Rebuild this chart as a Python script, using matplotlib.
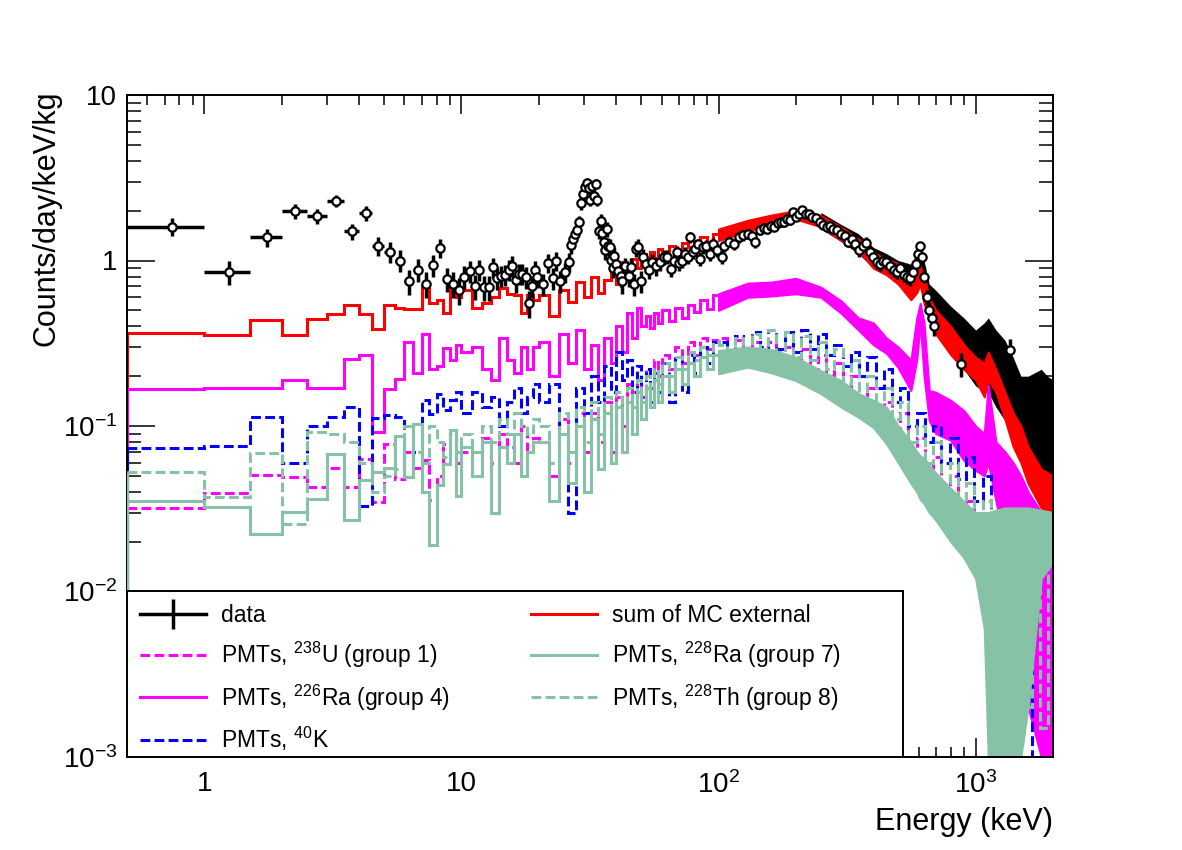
import numpy as np
import matplotlib
matplotlib.use("Agg")
import matplotlib.pyplot as plt
from matplotlib.lines import Line2D
from matplotlib.patches import Rectangle
from matplotlib.ticker import FixedLocator, FixedFormatter, LogLocator, NullFormatter

plt.rcParams['font.family'] = ['Liberation Sans', 'DejaVu Sans']
plt.rcParams['mathtext.fontset'] = 'custom'
plt.rcParams['mathtext.rm'] = 'Liberation Sans'
plt.rcParams['mathtext.it'] = 'Liberation Sans:italic'
plt.rcParams['mathtext.bf'] = 'Liberation Sans:bold'

# ---------------- data points (0.5 keV bins) ----------------
data_E = [0.75, 1.25, 1.75, 2.25, 2.75, 3.25, 3.75, 4.25, 4.75, 5.25, 5.75, 6.25, 6.75, 7.25, 7.75,
          8.25, 8.75, 9.25, 9.75, 10.25, 10.75, 11.25, 11.75, 12.25, 12.75, 13.25, 13.75, 14.25,
          14.75, 15.25, 15.75, 16.25, 16.75, 17.25, 17.75, 18.25, 18.75, 19.25, 19.75, 20.75, 21.75,
          22.75, 23.25, 24.25, 25.25, 26.25, 26.75, 27.25, 27.75, 28.25, 28.75, 29.25, 29.75, 30.25,
          30.75, 31.25, 31.75, 32.25, 32.75, 33.25, 33.75, 34.25, 34.75, 35.25, 35.75, 36.25, 36.75,
          37.25, 37.75, 38.25, 38.75, 39.25, 39.75, 40.75, 41.75, 42.25, 43.25, 44.75, 45.75, 46.75,
          47.75, 48.75, 49.75, 50.75, 52.25, 53.75, 55.25, 57.25, 59.25, 61.25, 63.25, 65.25, 67.25,
          68.75, 70.25, 72.25, 74.25, 76.25, 77.75, 79.75, 81.25, 83.25, 84.75, 87.25, 89.75, 92.25,
          95.25, 98.25, 102.75, 105, 110, 115, 120, 125, 130, 135, 139, 145, 150, 155, 160, 165, 170,
          175, 180, 185, 190, 195, 200, 206, 212, 218, 225, 232, 240, 248, 256, 264, 272, 280, 290,
          300, 310, 320, 330, 340, 352, 364, 376, 388, 400, 412, 424, 437, 450, 465, 480, 495, 510,
          525, 540, 555, 570, 585, 597, 609, 620, 632, 645, 660, 675, 690, 880, 1364]
data_y = [1.60, 0.855, 1.38, 1.98, 1.85, 2.30, 1.50, 1.93, 1.22, 1.13, 1.00, 0.75, 0.88, 0.72, 0.94,
          1.19, 0.775, 0.72, 0.66, 0.80, 0.86, 0.70, 0.88, 0.69, 0.69, 0.91, 0.78, 0.81,
          0.82, 0.88, 0.93, 0.76, 0.83, 0.83, 0.79, 0.55, 0.70, 0.88, 0.80, 0.72, 0.97,
          0.78, 1.00, 0.75, 0.85, 0.98, 1.24, 1.35, 1.44, 1.52, 1.70, 2.22, 2.53, 2.77,
          2.93, 2.73, 2.33, 2.81, 2.45, 2.90, 2.33, 1.50, 1.74, 1.46, 1.30, 1.15, 1.55,
          1.22, 1.21, 1.01, 0.90, 1.07, 0.95, 0.87, 0.81, 0.75, 0.92, 0.81, 0.91, 0.72,
          1.18, 1.21, 0.75, 1.05, 0.95, 0.88, 0.98, 0.92, 0.98, 1.05, 1.05, 0.89, 1.00,
          1.12, 0.97, 1.00, 1.10, 1.05, 1.38, 1.12, 1.18, 1.25, 1.02, 1.20, 1.23, 1.10,
          1.26, 1.15, 1.05, 1.22, 1.30, 1.25, 1.38, 1.42, 1.45, 1.40, 1.29, 1.52, 1.58, 1.55, 1.62,
          1.60, 1.68, 1.72, 1.70, 1.78, 1.75, 1.95, 1.84, 1.92, 2.02, 1.92, 1.90, 1.82, 1.80, 1.72,
          1.65, 1.60, 1.62, 1.55, 1.52, 1.45, 1.40, 1.30, 1.35, 1.25, 1.15, 1.22, 1.28, 1.12, 1.05,
          0.98, 0.95, 1.00, 0.98, 0.92, 0.88, 0.85, 0.90, 0.82, 0.80, 0.78, 0.85, 0.95, 1.10,
          1.22, 1.05, 0.80, 0.60, 0.50, 0.45, 0.40, 0.237, 0.286]
data_err = [0.20, 0.14, 0.17, 0.20, 0.19, 0.20, 0.17, 0.19, 0.16, 0.16, 0.15, 0.13, 0.14, 0.13, 0.14,
            0.16, 0.13, 0.13, 0.12, 0.13, 0.13, 0.12, 0.13, 0.12, 0.12, 0.13, 0.12, 0.12,
            0.12, 0.13, 0.13, 0.12, 0.12, 0.12, 0.12, 0.10, 0.11, 0.12, 0.12, 0.11, 0.13,
            0.12, 0.13, 0.11, 0.12, 0.13, 0.14, 0.15, 0.15, 0.16, 0.17, 0.19, 0.20, 0.21,
            0.21, 0.21, 0.20, 0.21, 0.20, 0.21, 0.20, 0.16, 0.17, 0.16, 0.15, 0.14, 0.16,
            0.15, 0.14, 0.13, 0.12, 0.13, 0.13, 0.12, 0.12, 0.12, 0.12, 0.12, 0.12, 0.11,
            0.13, 0.13, 0.11, 0.12, 0.11, 0.11, 0.11, 0.11, 0.11, 0.11, 0.10, 0.10, 0.10,
            0.10, 0.10, 0.10, 0.10, 0.10, 0.10, 0.10, 0.10, 0.10, 0.10, 0.10, 0.10, 0.10,
            0.10, 0.10, 0.10, 0.10, 0.10, 0.10, 0.10, 0.10, 0.10, 0.10, 0.10, 0.10, 0.10, 0.10, 0.10,
            0.10, 0.10, 0.10, 0.10, 0.10, 0.10, 0.10, 0.10, 0.10, 0.10, 0.10, 0.10, 0.10, 0.10, 0.10,
            0.10, 0.10, 0.10, 0.10, 0.10, 0.10, 0.10, 0.10, 0.10, 0.10, 0.10, 0.10, 0.10, 0.09, 0.09,
            0.09, 0.09, 0.09, 0.09, 0.08, 0.08, 0.08, 0.08, 0.08, 0.08, 0.08, 0.08, 0.08, 0.08,
            0.08, 0.08, 0.07, 0.06, 0.06, 0.05, 0.05, 0.04, 0.05]

# black band where the data bins pile up at high energy
dband_E = [250, 300, 350, 400, 450, 500, 560, 590, 609, 630, 660, 700, 800, 900, 1000, 1080, 1120,
           1200, 1300, 1400, 1500, 1600, 1700, 1800, 1900, 2000]
dband_lo = [1.55, 1.3, 1.1, 0.9, 0.85, 0.78, 0.75, 0.85, 0.95, 0.7, 0.45, 0.36, 0.29, 0.22, 0.175,
            0.16, 0.16, 0.13, 0.108, 0.08, 0.065, 0.05, 0.04, 0.035, 0.035, 0.04]
dband_hi = [1.95, 1.65, 1.45, 1.2, 1.1, 1.0, 0.95, 1.1, 1.3, 1.0, 0.72, 0.66, 0.53, 0.45, 0.38,
            0.42, 0.45, 0.38, 0.33, 0.26, 0.2, 0.2, 0.21, 0.22, 0.2, 0.19]

# ---------------- MC histograms up to 100 keV ----------------
bin_edges = [0.5, 1.0, 1.5, 2.0, 2.5, 3.0, 3.5, 4.0, 4.5, 5.0, 5.5, 6.0, 6.5, 7.0, 7.5, 8.0, 8.5,
             9.0, 9.5, 10, 11, 12, 13, 14, 15, 16, 17, 18, 19, 20,
             22, 24, 26, 28, 30, 32, 34, 36, 38, 40, 42, 44, 46, 48, 50, 52, 54, 56, 58, 60,
             64, 68, 72, 76, 80, 85, 90, 95, 100]
sum_low = [0.364, 0.357, 0.434, 0.357, 0.444, 0.477, 0.542, 0.477, 0.387, 0.535, 0.52, 0.51, 0.51,
           0.70, 0.55, 0.578, 0.48, 0.69, 0.60, 0.66, 0.52, 0.55, 0.60, 0.68, 0.63, 0.62, 0.48, 0.62, 0.58,
           0.62, 0.46, 0.66, 0.56, 0.74, 0.60, 0.80, 0.64, 0.76, 0.92, 0.72, 0.98, 0.80, 1.02, 0.90,
           1.10, 1.00, 1.12, 1.04, 1.18, 1.10, 1.22, 1.14, 1.28, 1.20, 1.32, 1.38, 1.30, 1.45]
u238_low = [0.0319, 0.0393, 0.0508, 0.049, 0.043, 0.056, 0.043, 0.063, 0.0347, 0.078, 0.048, 0.07,
            0.056, 0.062, 0.0355, 0.05, 0.078, 0.088, 0.06, 0.07, 0.05, 0.085, 0.06, 0.09, 0.075,
            0.06, 0.10, 0.07, 0.085,
            0.08, 0.05, 0.11, 0.06, 0.12, 0.07, 0.12, 0.08, 0.14, 0.07, 0.15, 0.10, 0.18, 0.12, 0.20,
            0.15, 0.22, 0.17, 0.25, 0.20, 0.27, 0.22, 0.30, 0.24, 0.32, 0.27, 0.34, 0.29, 0.33]
ra226_low = [0.168, 0.17, 0.17, 0.19, 0.17, 0.17, 0.255, 0.267, 0.092, 0.168, 0.193, 0.32, 0.21,
             0.36, 0.222, 0.23, 0.294, 0.25, 0.31, 0.28, 0.30, 0.22, 0.19, 0.34, 0.25, 0.21, 0.30,
             0.22, 0.30,
             0.32, 0.20, 0.36, 0.24, 0.38, 0.22, 0.31, 0.19, 0.34, 0.24, 0.40, 0.28, 0.48, 0.34, 0.52,
             0.40, 0.46, 0.39, 0.48, 0.42, 0.50, 0.43, 0.52, 0.45, 0.54, 0.49, 0.58, 0.51, 0.62]
k40_low = [0.074, 0.0755, 0.114, 0.06, 0.10, 0.113, 0.13, 0.033, 0.112, 0.116, 0.113, 0.049, 0.07,
           0.143, 0.118, 0.157, 0.125, 0.143, 0.16, 0.12, 0.16, 0.13, 0.15, 0.10, 0.14, 0.17, 0.12,
           0.15, 0.18,
           0.14, 0.18, 0.09, 0.03, 0.17, 0.12, 0.20, 0.14, 0.23, 0.16, 0.28, 0.19, 0.25, 0.16, 0.23,
           0.15, 0.22, 0.14, 0.21, 0.16, 0.24, 0.14, 0.26, 0.16, 0.27, 0.21, 0.30, 0.24, 0.32]
ra228_low = [0.0351, 0.0326, 0.0223, 0.0302, 0.0362, 0.068, 0.0269, 0.047, 0.0524, 0.056, 0.0875,
             0.049, 0.103, 0.04, 0.019, 0.044, 0.0589, 0.094, 0.038, 0.075, 0.05, 0.08, 0.03, 0.075,
             0.06, 0.09, 0.05, 0.07, 0.08,
             0.08, 0.035, 0.09, 0.045, 0.10, 0.04, 0.11, 0.055, 0.12, 0.06, 0.13, 0.07, 0.14, 0.09,
             0.16, 0.11, 0.17, 0.13, 0.19, 0.14, 0.20, 0.16, 0.22, 0.18, 0.24, 0.20, 0.26, 0.22, 0.27]
th228_low = [0.0525, 0.037, 0.069, 0.0255, 0.092, 0.09, 0.08, 0.06, 0.04, 0.05, 0.055, 0.10, 0.07,
             0.06, 0.10, 0.08, 0.065, 0.09, 0.07, 0.09, 0.07, 0.10, 0.08, 0.11, 0.09, 0.12, 0.10,
             0.09, 0.11,
             0.10, 0.06, 0.12, 0.07, 0.13, 0.08, 0.14, 0.09, 0.15, 0.10, 0.16, 0.11, 0.17, 0.13, 0.19,
             0.14, 0.20, 0.16, 0.22, 0.18, 0.24, 0.20, 0.26, 0.22, 0.28, 0.25, 0.30, 0.27, 0.32]

# ---------------- dashed MC above 100 keV (coarser bins) ----------------
hi_edges = [100, 108, 116, 125, 135, 145, 156, 168, 181, 195, 210, 226, 243, 262, 282, 304, 327, 352,
            379, 408, 439, 473, 509, 548, 590, 635, 684, 736, 792, 853, 918, 988, 1064, 1145, 1233,
            1327, 1429, 1538, 1656, 1783, 1920, 2000]
u238_high = [0.34, 0.27, 0.33, 0.26, 0.32, 0.25, 0.32, 0.24, 0.30, 0.23, 0.29, 0.22, 0.27, 0.20, 0.24,
             0.17, 0.20, 0.14, 0.17, 0.12, 0.14, 0.09, 0.12, 0.07, 0.085, 0.055, 0.065, 0.04, 0.05,
             0.025, 0.035, 0.015, 0.025, 0.008, 0.014, 0.004, 0.01, 0.002, 0.007, 0.0015, 0.005]
k40_high = [0.32, 0.26, 0.35, 0.29, 0.37, 0.30, 0.38, 0.29, 0.37, 0.28, 0.38, 0.29, 0.36, 0.27, 0.31,
            0.23, 0.28, 0.20, 0.26, 0.17, 0.22, 0.14, 0.17, 0.10, 0.12, 0.08, 0.10, 0.06, 0.085, 0.048,
            0.065, 0.035, 0.05, 0.02, 0.03, 0.012, 0.022, 0.005, 0.0005, 0.0005, 0.0005]
th228_high = [0.31, 0.24, 0.34, 0.26, 0.36, 0.27, 0.38, 0.28, 0.37, 0.26, 0.35, 0.25, 0.32, 0.22, 0.29,
              0.18, 0.25, 0.15, 0.20, 0.13, 0.17, 0.11, 0.14, 0.08, 0.10, 0.06, 0.08, 0.045, 0.06,
              0.03, 0.045, 0.022, 0.035, 0.012, 0.028, 0.004, 0.028, 0.002, 0.025, 0.0015, 0.022]

# ---------------- solid MC, spread of the fine bins above 100 keV ----------------
band_E = [100, 130, 160, 200, 250, 300, 350, 400, 450, 500, 560, 590, 609, 630, 660, 700, 800, 900,
          1000, 1080, 1120, 1200, 1300, 1400, 1500, 1600, 1800, 2000]
sum_lo = [1.32, 1.50, 1.67, 1.78, 1.60, 1.32, 1.15, 0.90, 0.82, 0.72, 0.58, 0.64, 0.72, 0.55, 0.45,
          0.36, 0.27, 0.22, 0.19, 0.15, 0.19, 0.16, 0.11, 0.075, 0.06, 0.045, 0.032, 0.028]
sum_hi = [1.55, 1.75, 1.88, 2.0, 1.87, 1.59, 1.35, 1.12, 1.02, 0.96, 0.78, 0.85, 0.92, 0.80, 0.60,
          0.50, 0.40, 0.31, 0.26, 0.24, 0.28, 0.22, 0.16, 0.12, 0.10, 0.075, 0.055, 0.05]
ra226_lo = [0.50, 0.60, 0.61, 0.63, 0.60, 0.48, 0.38, 0.31, 0.275, 0.225, 0.164, 0.25, 0.42, 0.20,
            0.108, 0.09, 0.082, 0.062, 0.054, 0.05, 0.06, 0.035, 0.02, 0.015, 0.006, 0.002, 0.001, 0.001]
ra226_hi = [0.63, 0.73, 0.74, 0.78, 0.69, 0.57, 0.45, 0.42, 0.34, 0.30, 0.25, 0.45, 0.55, 0.42,
            0.164, 0.16, 0.143, 0.124, 0.10, 0.09, 0.176, 0.08, 0.07, 0.06, 0.05, 0.04, 0.03, 0.025]
ra228_lo = [0.207, 0.227, 0.21, 0.188, 0.157, 0.13, 0.113, 0.098, 0.078, 0.06, 0.045, 0.04, 0.036,
            0.034, 0.03, 0.027, 0.02, 0.016, 0.012, 0.006, 0.001, 0.001, 0.001, 0.001, 0.001, 0.002,
            0.012, 0.015]
ra228_hi = [0.286, 0.30, 0.29, 0.26, 0.216, 0.188, 0.157, 0.143, 0.13, 0.10, 0.08, 0.07, 0.066,
            0.064, 0.058, 0.052, 0.042, 0.035, 0.03, 0.03, 0.03, 0.031, 0.032, 0.032, 0.032, 0.032,
            0.031, 0.03]

RED = '#ff0000'
MAG = '#ff00ff'
BLUE = '#0000ff'
GREEN = '#86c2a5'
DASH = (3.2, 1.4)

fig = plt.figure(figsize=(11.82, 8.5), dpi=100)
ax = fig.add_axes([127 / 1182, 1 - 757 / 850, 926 / 1182, 662 / 850])

# black band under everything
ax.fill_between(dband_E, dband_lo, dband_hi, color='black', lw=0, zorder=1)

all_edges = bin_edges + hi_edges[1:]
series = [
    ('solid', sum_low, sum_lo, sum_hi, RED),
    ('dash', u238_low + u238_high, None, None, MAG),
    ('solid', ra226_low, ra226_lo, ra226_hi, MAG),
    ('dash', k40_low + k40_high, None, None, BLUE),
    ('solid', ra228_low, ra228_lo, ra228_hi, GREEN),
    ('dash', th228_low + th228_high, None, None, GREEN),
]
z = 2
for kind, vals, lo, hi, col in series:
    if kind == 'solid':
        ax.stairs(vals, bin_edges, baseline=None, color=col, lw=2.2, zorder=z)
        ax.fill_between(band_E, lo, hi, color=col, lw=1.5, zorder=z)
    else:
        ax.stairs(vals, all_edges, baseline=None, color=col, lw=2.2, ls=(0, DASH), zorder=z)
    ax.vlines(bin_edges[0], 1e-4, vals[0], color=col, lw=2.2, zorder=z)
    z += 0.1

ax.errorbar(data_E, data_y, yerr=data_err, xerr=0.25, fmt='o', ms=6, mfc='white', mec='black',
            mew=1.6, ecolor='black', elinewidth=2.5, capsize=0, zorder=6)

ax.set_xscale('log')
ax.set_yscale('log')
ax.set_xlim(0.5, 2000)
ax.set_ylim(1e-3, 10)

ax.xaxis.set_major_locator(FixedLocator([1, 10, 100, 1000]))
ax.xaxis.set_major_formatter(FixedFormatter(['1', '10', r'$10^{2}$', r'$10^{3}$']))
ax.xaxis.set_minor_locator(LogLocator(base=10, subs=np.arange(2, 10), numticks=100))
ax.xaxis.set_minor_formatter(NullFormatter())
ax.yaxis.set_major_locator(FixedLocator([1e-3, 1e-2, 1e-1, 1, 10]))
ax.yaxis.set_major_formatter(FixedFormatter([r'$10^{-3}$', r'$10^{-2}$', r'$10^{-1}$', '1', '10']))
ax.yaxis.set_minor_locator(LogLocator(base=10, subs=np.arange(2, 10), numticks=100))
ax.yaxis.set_minor_formatter(NullFormatter())

ax.tick_params(which='both', direction='in', top=True, right=True, width=1.1, labelsize=20)
ax.tick_params(axis='y', which='major', length=20, pad=7)
ax.tick_params(axis='y', which='minor', length=10)
ax.tick_params(axis='x', which='major', length=14, pad=10)
ax.tick_params(axis='x', which='minor', length=7)
for s in ax.spines.values():
    s.set_linewidth(1.4)

fig.text(47 / 1182, 1 - 90 / 850, 'Counts/day/keV/kg', rotation=90, ha='center', va='top', fontsize=22)
fig.text(1053 / 1182, 1 - 822 / 850, 'Energy (keV)', ha='right', va='center', fontsize=22)

# legend box
ax.add_patch(Rectangle((0, 0), 776 / 926, 166 / 662, transform=ax.transAxes, facecolor='white',
                       edgecolor='black', lw=1.4, zorder=10))
handles = [
    Line2D([], [], color='black', lw=2.5, marker='|', ms=22, mew=2.5),
    Line2D([], [], color=MAG, lw=2.2, dashes=DASH),
    Line2D([], [], color=MAG, lw=2.2),
    Line2D([], [], color=BLUE, lw=2.2, dashes=DASH),
    Line2D([], [], color=RED, lw=2.2),
    Line2D([], [], color=GREEN, lw=2.2),
    Line2D([], [], color=GREEN, lw=2.2, dashes=DASH),
]
labels = ['data', r'PMTs, $^{238}$U (group 1)', r'PMTs, $^{226}$Ra (group 4)', r'PMTs, $^{40}$K',
          'sum of MC external', r'PMTs, $^{228}$Ra (group 7)', r'PMTs, $^{228}$Th (group 8)']
leg = ax.legend(handles, labels, loc='upper left', bbox_to_anchor=(13 / 926, 153 / 662),
                bbox_transform=ax.transAxes, ncol=2, frameon=False, fontsize=16.5, handlelength=2.9,
                handletextpad=0.65, columnspacing=3.5, labelspacing=0.55, borderpad=0, borderaxespad=0)
leg.set_zorder(11)

fig.savefig('out.png', dpi=100)
